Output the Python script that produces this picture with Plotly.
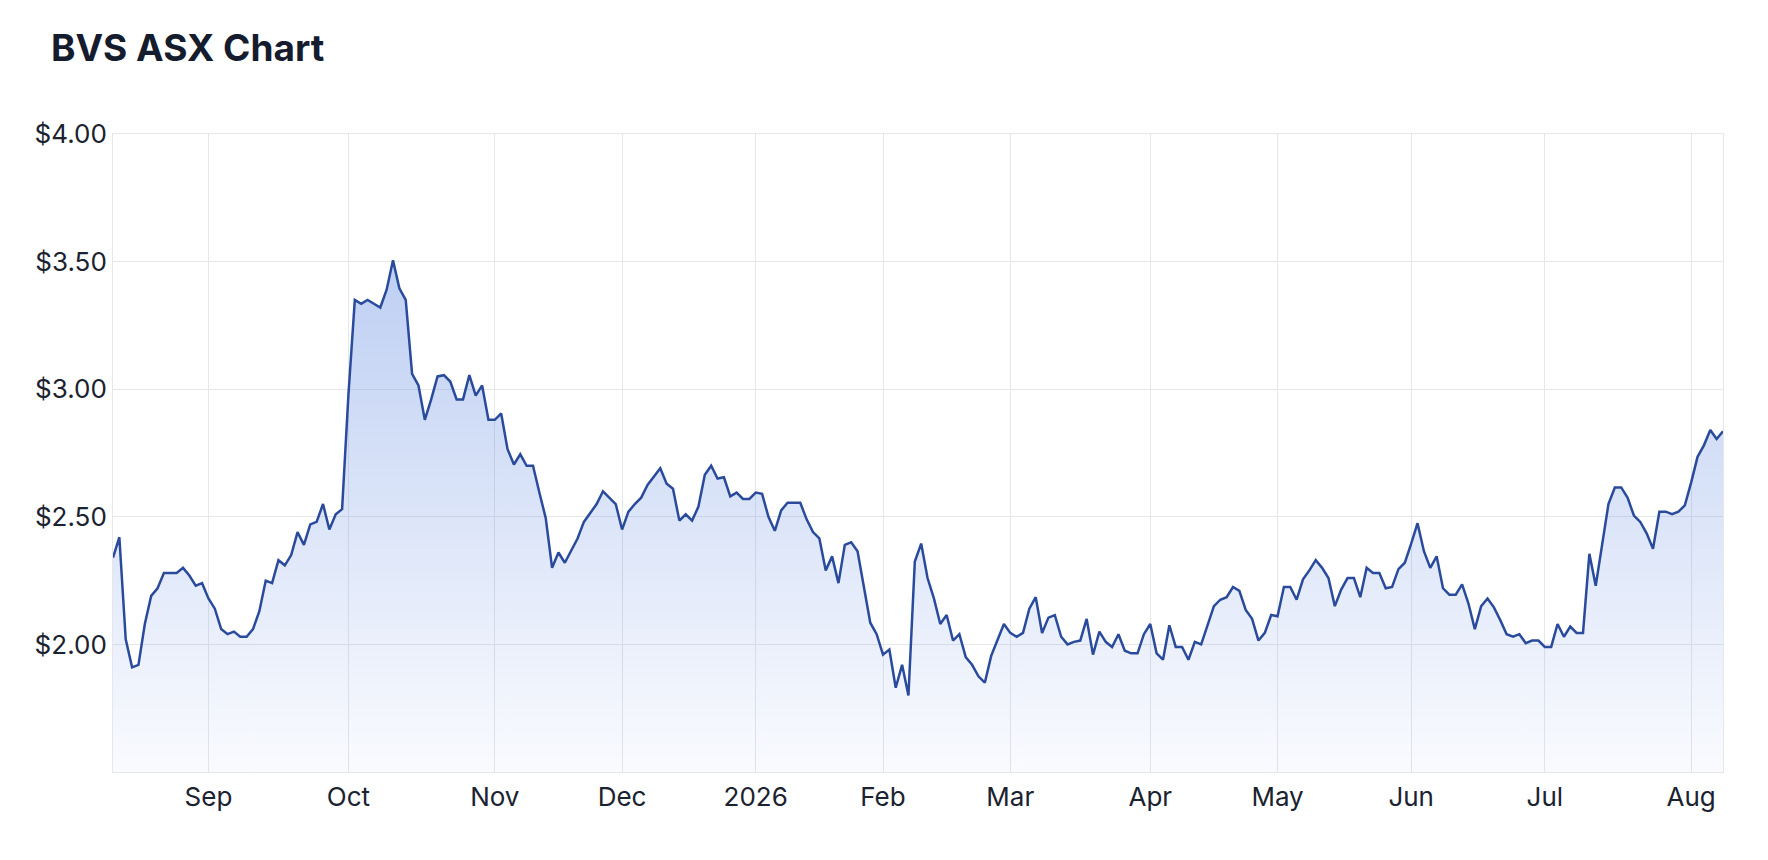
import pandas as pd
import plotly.graph_objs as go

# ASX closing prices, one value per trading day
aug_2025 = [2.34, 2.42, 2.02, 1.91, 1.92, 2.08, 2.19, 2.22, 2.28, 2.28, 2.28, 2.30, 2.27, 2.23, 2.24]
sep_2025 = [2.18, 2.14, 2.06, 2.04, 2.05, 2.03, 2.03, 2.06, 2.13, 2.25, 2.24, 2.33, 2.31, 2.35, 2.44,
            2.39, 2.47, 2.48, 2.55, 2.45, 2.51, 2.53]
oct_2025 = [2.98, 3.35, 3.335, 3.35, 3.335, 3.32, 3.39, 3.505, 3.395, 3.35, 3.06, 3.015, 2.88, 2.96,
            3.05, 3.055, 3.03, 2.96, 2.96, 3.055, 2.975, 3.015, 2.88]
nov_2025 = [2.88, 2.905, 2.765, 2.705, 2.745, 2.70, 2.70, 2.595, 2.495, 2.30, 2.36, 2.32, 2.37, 2.415,
            2.48, 2.515, 2.55, 2.60, 2.575, 2.55]
dec_2025 = [2.45, 2.52, 2.55, 2.575, 2.625, 2.66, 2.69, 2.63, 2.61, 2.485, 2.51, 2.485, 2.54, 2.665,
            2.70, 2.65, 2.655, 2.58, 2.595, 2.57, 2.57]
jan_2026 = [2.595, 2.59, 2.50, 2.445, 2.525, 2.555, 2.555, 2.555, 2.49, 2.44, 2.415, 2.29, 2.345, 2.24,
            2.39, 2.40, 2.365, 2.22, 2.085, 2.04]
feb_2026 = [1.96, 1.98, 1.83, 1.92, 1.80, 2.325, 2.395, 2.26, 2.18, 2.08, 2.115, 2.015, 2.04, 1.95,
            1.92, 1.875, 1.85, 1.955, 2.02, 2.08]
mar_2026 = [2.045, 2.03, 2.045, 2.14, 2.185, 2.045, 2.105, 2.115, 2.03, 2.00, 2.01, 2.015, 2.10, 1.96,
            2.05, 2.01, 1.99, 2.04, 1.975, 1.965, 1.965, 2.04]
apr_2026 = [2.08, 1.965, 1.94, 2.075, 1.99, 1.99, 1.94, 2.01, 2.00, 2.075, 2.15, 2.175, 2.185, 2.225,
            2.21, 2.135, 2.10, 2.015, 2.045, 2.115]
may_2026 = [2.11, 2.225, 2.225, 2.175, 2.255, 2.29, 2.33, 2.30, 2.26, 2.15, 2.215, 2.26, 2.26, 2.185,
            2.30, 2.28, 2.28, 2.22, 2.225, 2.295, 2.32]
jun_2026 = [2.395, 2.475, 2.365, 2.30, 2.345, 2.22, 2.195, 2.195, 2.235, 2.16, 2.06, 2.15, 2.18, 2.145,
            2.095, 2.04, 2.03, 2.04, 2.005, 2.015, 2.015]
jul_2026 = [1.99, 1.99, 2.08, 2.03, 2.07, 2.045, 2.045, 2.355, 2.23, 2.39, 2.55, 2.615, 2.615, 2.575,
            2.505, 2.48, 2.435, 2.375, 2.52, 2.52, 2.51, 2.52, 2.545]
aug_2026 = [2.635, 2.735, 2.78, 2.84, 2.805, 2.835]

asx_holidays = ["2025-12-25", "2025-12-26", "2026-01-01", "2026-01-26",
                "2026-04-03", "2026-04-06", "2026-06-08"]

month_ticks = ["2025-09-01", "2025-10-01", "2025-11-03", "2025-12-01", "2026-01-02", "2026-02-02",
               "2026-03-02", "2026-04-01", "2026-05-01", "2026-06-01", "2026-07-01", "2026-08-03"]
month_labels = ["Sep", "Oct", "Nov", "Dec", "2026", "Feb", "Mar", "Apr", "May", "Jun", "Jul", "Aug"]

price_ticks = [2.0, 2.5, 3.0, 3.5, 4.0]
price_labels = ["$2.00", "$2.50", "$3.00", "$3.50", "$4.00"]

prices = (aug_2025 + sep_2025 + oct_2025 + nov_2025 + dec_2025 + jan_2026 + feb_2026
          + mar_2026 + apr_2026 + may_2026 + jun_2026 + jul_2026 + aug_2026)
dates = pd.bdate_range("2025-08-11", "2026-08-10", freq="C", holidays=asx_holidays)

grid = "#e6e7ea"

trace = go.Scatter(
    x=dates,
    y=prices,
    mode="lines",
    line={"color": "#2a4b9c", "width": 2.5},
    fill="tozeroy",
    fillgradient={
        "type": "vertical",
        "start": 1.5,
        "stop": 4.0,
        "colorscale": [[0, "rgba(66,115,220,0.03)"], [1, "rgba(66,115,220,0.42)"]]},
    hovertemplate="%{x|%d %b %Y}<br>$%{y:.2f}<extra></extra>",
)

layout = go.Layout(
    width=1768,
    height=860,
    paper_bgcolor="white",
    plot_bgcolor="white",
    showlegend=False,
    margin={"l": 105, "r": 53, "t": 126, "b": 96},
    font={"family": "Inter, Roboto, sans-serif", "color": "#1b2230"},
    title={
        "text": "BVS ASX Chart",
        "x": 43 / 1768,
        "xanchor": "left",
        "y": 1 - 40 / 860,
        "yanchor": "middle",
        "font": {"size": 37, "weight": 700, "color": "#141c2e"}},
    xaxis={
        "type": "date",
        "range": [dates[0], dates[-1]],
        "rangebreaks": [{"bounds": ["sat", "mon"]}, {"values": asx_holidays}],
        "tickvals": month_ticks,
        "ticktext": month_labels,
        "tickfont": {"size": 26},
        "ticklabelstandoff": 2,
        "showgrid": True,
        "gridcolor": grid,
        "gridwidth": 1,
        "showline": True,
        "linecolor": grid,
        "mirror": True,
        "ticks": "",
        "zeroline": False},
    yaxis={
        "range": [1.5, 4.0],
        "tickvals": price_ticks,
        "ticktext": price_labels,
        "tickfont": {"size": 26},
        "showgrid": True,
        "gridcolor": grid,
        "gridwidth": 1,
        "showline": True,
        "linecolor": grid,
        "mirror": True,
        "ticks": "",
        "zeroline": False},
)

fig = go.Figure(data=[trace], layout=layout)
fig.write_html("out.html")
